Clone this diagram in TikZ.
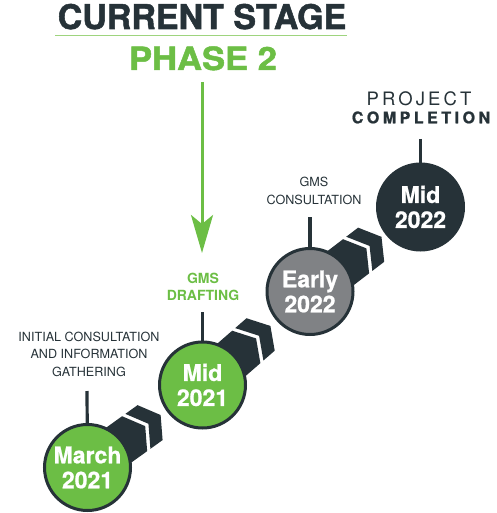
\documentclass[tikz,border=0pt]{standalone}
\usepackage{fontspec}
\setmainfont{TeX Gyre Heros}
\usetikzlibrary{arrows.meta,backgrounds}
\definecolor{dk}{HTML}{263238}
\definecolor{gr}{HTML}{6CBE45}
\definecolor{gy}{HTML}{808285}
\definecolor{lg}{HTML}{9ED47E}
\newcommand\chevband[2]{%
  \pgfmathanglebetweenpoints{\pgfpointanchor{#1}{center}}{\pgfpointanchor{#2}{center}}%
  \let\bandang\pgfmathresult
  \begin{scope}[shift={(#1.center)}, rotate=\bandang]
    \fill[dk] (0,-21.5) -- (58,-21.5) -- (71,0) -- (58,21.5) -- (0,21.5) -- cycle;
    \fill[dk] (62,-21.5) -- (77,-21.5) -- (90,0) -- (77,21.5) -- (62,21.5) -- (75,0) -- cycle;
  \end{scope}}
\begin{document}
\begin{tikzpicture}[x=1pt,y=-1pt,
  stage/.style={circle, draw=dk, line width=3pt, minimum size=86pt, inner sep=0pt,
    text=white, align=center, font=\fontsize{23}{25}\selectfont\bfseries\addfontfeature{FakeBold=0.8}},
  stem/.style={draw=dk, line width=3.2pt},
  lbl/.style={text=dk, align=center, inner sep=0pt, font=\fontsize{12.6}{17.5}\selectfont},
  glbl/.style={text=gr, align=center, inner sep=0pt, font=\fontsize{14}{17}\selectfont\bfseries},
  title/.style={inner sep=0pt, anchor=base}]
\useasboundingbox (0,0) rectangle (496,513);
% titles
\node[title, text=dk, font=\fontsize{34}{34}\selectfont\bfseries\addfontfeature{FakeBold=1.5}] (t1) at (202,29) {CURRENT STAGE};
\coordinate (r1) at (55,35.5);
\coordinate (r2) at (347,35.5);
\draw[lg, line width=1.2pt] (r1) -- (r2);
\node[title, text=gr, font=\fontsize{32}{32}\selectfont\bfseries\addfontfeature{FakeBold=1.5}] (t2) at (203,70) {\scalebox{1.08}[1]{PHASE 2}};
\coordinate (a1) at (202,82);
\coordinate (a2) at (202,253);
\draw[gr, line width=3pt, -{Stealth[length=38pt,width=22pt,inset=9pt]}] (a1) -- (a2);
% circles
\node[stage, fill=gr] (c1) at (87.5,467.5) {March\\2021};
\node[stage, fill=gr] (c2) at (202.5,385) {Mid\\2021};
\node[stage, fill=gy] (c3) at (310,291.5) {Early\\2022};
\node[stage, fill=dk] (c4) at (420.5,207) {Mid\\2022};
% labels
\node[lbl] (l1) at (89,354.2) {INITIAL CONSULTATION\\AND INFORMATION\\GATHERING};
\node[glbl] (l2) at (203,286.5) {GMS\\DRAFTING};
\node[lbl] (l3) at (314,190.8) {GMS\\CONSULTATION};
\node[title, text=dk, font=\fontsize{18.5}{18.5}\selectfont\addfontfeature{LetterSpace=17}] (l4a) at (419,106) {PROJECT};
\node[title, text=dk, font=\fontsize{16}{16}\selectfont\bfseries\addfontfeature{LetterSpace=22,FakeBold=1}] (l4b) at (421,123.3) {COMPLETION};
% stems
\coordinate (s1) at (87,391);
\coordinate (s2) at (202.5,312);
\coordinate (s3) at (310,217);
\coordinate (s4) at (420.5,139);
\begin{scope}[on background layer]
  \draw[stem] (s1) -- (c1.center);
  \draw[stem] (s2) -- (c2.center);
  \draw[stem] (s3) -- (c3.center);
  \draw[stem] (s4) -- (c4.center);
  \chevband{c1}{c2}
  \chevband{c2}{c3}
  \chevband{c3}{c4}
\end{scope}
\end{tikzpicture}
\end{document}
